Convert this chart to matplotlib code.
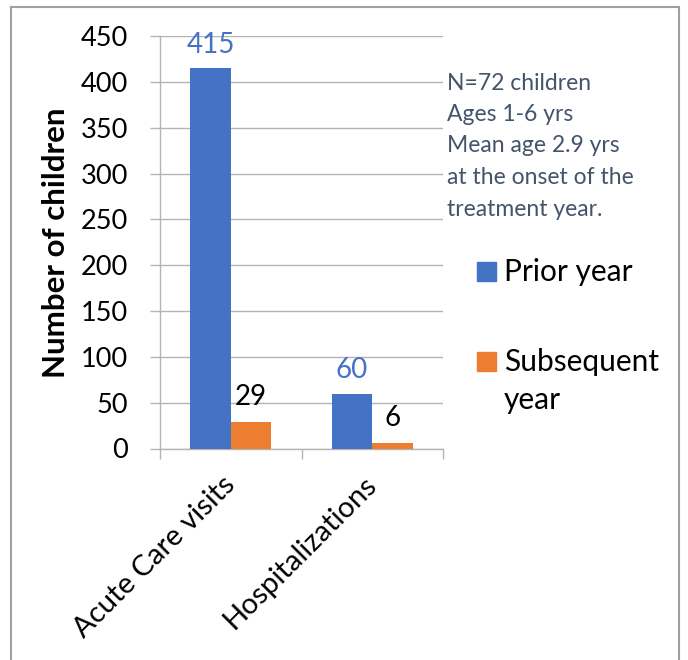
import matplotlib
matplotlib.use("Agg")
import matplotlib.pyplot as plt
from matplotlib.patches import Rectangle
from matplotlib.lines import Line2D
import numpy as np

plt.rcParams['font.family'] = ['Lato', 'DejaVu Sans']

categories = ["Acute Care visits", "Hospitalizations"]
prior_year = [415, 60]
subsequent_year = [29, 6]
series_names = ["Prior year", "Subsequent", "year"]
y_ticks = [0, 50, 100, 150, 200, 250, 300, 350, 400, 450]
note_lines = ["N=72 children", "Ages 1-6 yrs", "Mean age 2.9 yrs",
              "at the onset of the", "treatment year."]

BLUE = "#4472C4"
ORANGE = "#ED7D31"
GRID = "#B4B4B4"
NOTE = "#44546A"

W, H = 688, 660
fig = plt.figure(figsize=(W / 100, H / 100), dpi=100)

def fx(px):
    return px / W

def fy(py):
    return 1 - py / H

ax = fig.add_axes([fx(160), fy(448.5), fx(443) - fx(160), fy(36) - fy(448.5)])

x = np.arange(len(categories))
bw = 0.286
b1 = ax.bar(x - bw / 2, prior_year, bw, color=BLUE, zorder=3)
b2 = ax.bar(x + bw / 2, subsequent_year, bw, color=ORANGE, zorder=3)

for rect, v in zip(b1, prior_year):
    ax.annotate(str(v), (rect.get_x() + rect.get_width() / 2, v),
                xytext=(0, 11), textcoords="offset points",
                ha="center", va="baseline", fontsize=20, color=BLUE)
for rect, v in zip(b2, subsequent_year):
    ax.annotate(str(v), (rect.get_x() + rect.get_width() / 2, v),
                xytext=(0, 12.5), textcoords="offset points",
                ha="center", va="baseline", fontsize=20, color="black")

ax.set_xlim(-0.5, len(categories) - 0.5)
ax.set_ylim(0, 450)
ax.set_yticks(y_ticks)
ax.set_yticklabels([str(t) for t in y_ticks], fontsize=19.5)
ax.yaxis.grid(True, color=GRID, linewidth=1, zorder=0)
ax.set_axisbelow(True)

# category boundaries as major ticks, labels at centers as minor ticks
ax.set_xticks(np.arange(-0.5, len(categories), 1.0))
ax.set_xticklabels([])
ax.set_xticks(x, minor=True)
ax.set_xticklabels(categories, minor=True, rotation=45, ha="right", va="center",
                   rotation_mode="anchor", fontsize=21)
ax.tick_params(axis="x", which="major", length=7, color=GRID, width=1)
ax.tick_params(axis="x", which="minor", length=0, pad=23.5)
ax.tick_params(axis="y", length=7, color=GRID, width=1, pad=16)

for s in ["top", "right"]:
    ax.spines[s].set_visible(False)
for s in ["left", "bottom"]:
    ax.spines[s].set_color(GRID)
    ax.spines[s].set_linewidth(1)

ax.set_ylabel("Number of children", fontsize=22.5, fontweight="bold", labelpad=8)

# note text
for i, line in enumerate(note_lines):
    fig.text(fx(447), fy(83 + i * 31.5), line, fontsize=16.5, color=NOTE,
             ha="left", va="center")

# legend
fig.patches.append(Rectangle((fx(477), fy(281)), fx(19), fy(0) - fy(19),
                             transform=fig.transFigure, color=BLUE))
fig.text(fx(504), fy(271.5), series_names[0], fontsize=21.5, color="black",
         ha="left", va="center")
fig.patches.append(Rectangle((fx(477), fy(371)), fx(19), fy(0) - fy(19),
                             transform=fig.transFigure, color=ORANGE))
fig.text(fx(504), fy(361.5), series_names[1], fontsize=21.5, color="black",
         ha="left", va="center")
fig.text(fx(504), fy(400), series_names[2], fontsize=21.5, color="black",
         ha="left", va="center")

# outer border (top, left, right)
bc = "#A0A0A0"
fig.lines.append(Line2D([fx(11), fx(11)], [fy(7), 0], transform=fig.transFigure, color=bc, lw=1.5))
fig.lines.append(Line2D([fx(679), fx(679)], [fy(7), 0], transform=fig.transFigure, color=bc, lw=1.5))
fig.lines.append(Line2D([fx(11), fx(679)], [fy(7), fy(7)], transform=fig.transFigure, color=bc, lw=1.5))

fig.savefig("out.png", dpi=100)
